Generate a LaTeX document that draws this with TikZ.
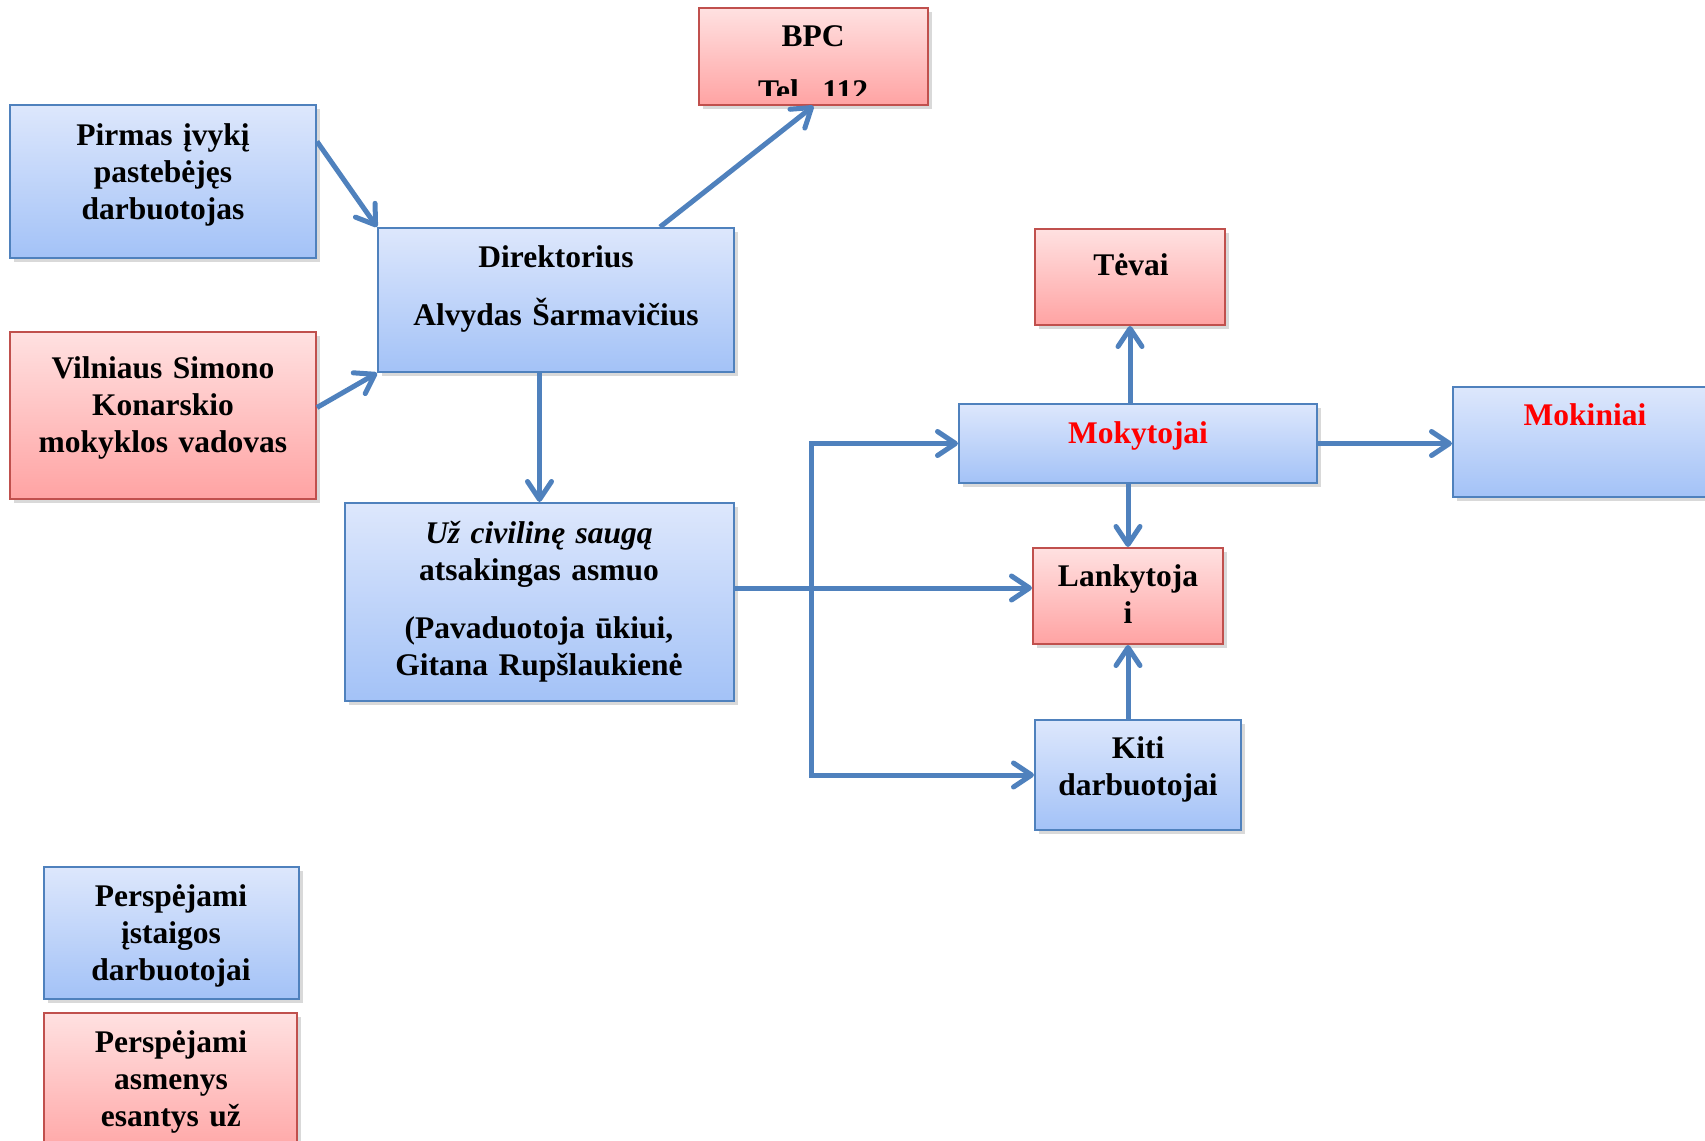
\documentclass[tikz,border=0pt]{standalone}
\usepackage{fontspec}
\setmainfont{Liberation Serif}
\usetikzlibrary{arrows.meta}
\usetikzlibrary{shadows}
\usetikzlibrary{fit}

\definecolor{lineblue}{HTML}{4F81BD}
\definecolor{linered}{HTML}{C0504D}
\definecolor{topblue}{HTML}{DDE7FC}
\definecolor{botblue}{HTML}{A3C2F7}
\definecolor{topred}{HTML}{FFE1E1}
\definecolor{botred}{HTML}{FFA3A3}

\tikzset{
	box/.style={rectangle, inner sep=0pt, line width=1pt,
		drop shadow={shadow xshift=2pt, shadow yshift=-2pt, opacity=0.3}},
	bluebox/.style={box, draw=lineblue, top color=topblue, bottom color=botblue},
	redbox/.style={box, draw=linered, top color=topred, bottom color=botred},
	txt/.style={font=\bfseries\fontsize{15.75}{18.5}\selectfont, align=center,
		text width=170pt, inner sep=0pt, anchor=base},
	link/.style={draw=lineblue, line width=2.5pt,
		-{Straight Barb[length=9pt,width=12pt,round]}}
}

\begin{document}
\begin{tikzpicture}[x=0.5pt,y=-0.5pt]
		\useasboundingbox (0,0) rectangle (1705,1141);
		\clip (0,0) rectangle (1705,1141);
		
		% boxes
		\node[redbox, fit={(699,8) (928,105)}] (bpc) {};
		\node[bluebox, fit={(10,105) (316,258)}] (pirmas) {};
		\node[redbox, fit={(10,332) (316,499)}] (vilnius) {};
		\node[bluebox, fit={(378,228) (734,372)}] (dir) {};
		\node[bluebox, fit={(345,503) (734,701)}] (uz) {};
		\node[redbox, fit={(1035,229) (1225,325)}] (tevai) {};
		\node[bluebox, fit={(959,404) (1317,483)}] (mok) {};
		\node[bluebox, fit={(1453,387) (1718,497)}] (mokin) {};
		\node[redbox, fit={(1033,548) (1223,644)}] (lank) {};
		\node[bluebox, fit={(1035,720) (1241,830)}] (kiti) {};
		\node[bluebox, fit={(44,867) (299,999)}] (persp1) {};
		\node[redbox, fit={(44,1013) (297,1160)}] (persp2) {};
		
		% texts
		\begin{scope}
		\clip (699,8) rectangle (928,95);
		\node[txt] (bpctxt) at (813,46) {BPC\\[9pt]Tel. 112};
		\end{scope}
		\node[txt] (pirmastxt) at (163,145) {Pirmas įvykį\\pastebėjęs\\darbuotojas};
		\node[txt] (viltxt) at (163,378) {Vilniaus Simono\\Konarskio\\mokyklos vadovas};
		\node[txt] (dirtxt) at (556,267) {Direktorius\\[10.5pt]Alvydas Šarmavičius};
		\node[txt] (uztxt) at (539,543) {\textit{Už civilinę saugą}\\atsakingas asmuo\\[10.5pt](Pavaduotoja ūkiui,\\Gitana Rupšlaukienė};
		\node[txt] (tevaitxt) at (1131,275) {Tėvai};
		\node[txt, text=red] (moktxt) at (1138,443) {Mokytojai};
		\node[txt, text=red] (mokintxt) at (1585,425) {Mokiniai};
		\node[txt] (lanktxt) at (1128,586) {Lankytoja\\i};
		\node[txt] (kititxt) at (1138,758) {Kiti\\darbuotojai};
		\node[txt] (persp1txt) at (171,906) {Perspėjami\\įstaigos\\darbuotojai};
		\node[txt] (persp2txt) at (171,1052) {Perspėjami\\asmenys\\esantys už};
		
		% arrows to and from the director
		\draw[link] ([yshift=20pt]pirmas.east) -- (dir.north west);
		\draw[link] ([yshift=4pt]vilnius.east) -- (dir.south west);
		\draw[link] ([xshift=52pt]dir.north) -- (bpc.south);
		\draw[link] (dir.south -| uz.north) -- (uz.north);
		
		% branching line
		\coordinate (split) at (811,588);
		\draw[link] (uz.east |- split) -- (split -| lank.west);
		\foreach \t in {mok,kiti}
		\draw[link] (split) |- (\t.west);
		
		% vertical arrows on the right
		\draw[link] (mok.north -| tevai.south) -- (tevai.south);
		\draw[link] (mok.south -| lank.north) -- (lank.north);
		\draw[link] (kiti.north -| lank.south) -- (lank.south);
		\draw[link] (mok.east) -- (mok.east -| mokin.west);
		
\end{tikzpicture}
\end{document}
